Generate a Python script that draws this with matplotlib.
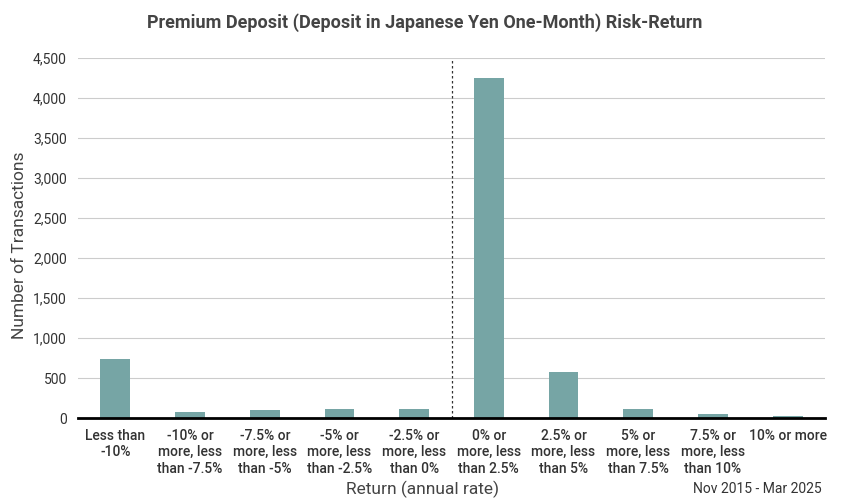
import matplotlib
matplotlib.use("Agg")
import matplotlib.pyplot as plt

categories = ["Less than\n-10%", "-10% or\nmore, less\nthan -7.5%", "-7.5% or\nmore, less\nthan -5%",
              "-5% or\nmore, less\nthan -2.5%", "-2.5% or\nmore, less\nthan 0%", "0% or\nmore, less\nthan 2.5%",
              "2.5% or\nmore, less\nthan 5%", "5% or\nmore, less\nthan 7.5%", "7.5% or\nmore, less\nthan 10%",
              "10% or more"]
values = [740, 75, 100, 112, 112, 4250, 575, 112, 50, 22]
yticks = [0, 500, 1000, 1500, 2000, 2500, 3000, 3500, 4000, 4500]

plt.rcParams["font.family"] = "Roboto"
fig = plt.figure(figsize=(8.5, 5), dpi=100)
ax = fig.add_axes([78/850, 82/500, 747/850, 360/500])
x = range(len(categories))
ax.bar(x, values, width=0.4, color="#76a5a5", zorder=3)
ax.set_xlim(-0.5, len(categories) - 0.5)
ax.set_ylim(0, 4500)
ax.set_yticks(yticks)
ax.set_yticklabels([f"{v:,}" for v in yticks], fontsize=10, color="#333333")
ax.set_xticks(list(x))
ax.set_xticklabels(categories, fontsize=10, color="#333333", fontweight="medium")
ax.tick_params(length=0, pad=8)
ax.grid(axis="y", color="#cccccc", linewidth=0.8, zorder=0)
for s in ["top", "right", "left"]:
    ax.spines[s].set_visible(False)
ax.spines["bottom"].set_linewidth(2)
ax.spines["bottom"].set_zorder(4)
ax.axvline(4.5, color="#333333", linestyle=(0, (2, 2)), linewidth=0.9, zorder=4)
fig.text(20/850, 1 - 245/500, "Number of Transactions", rotation=90, ha="center", va="center",
         fontsize=12.5, color="#444444")
fig.text(423/850, 1 - 489/500, "Return (annual rate)", ha="center", va="center",
         fontsize=12.5, color="#444444")
fig.text(0.5, 0.955, "Premium Deposit (Deposit in Japanese Yen One-Month) Risk-Return",
         ha="center", va="center", fontsize=13, fontweight="bold", color="#444444")
fig.text(822/850, 1 - 489/500, "Nov 2015 - Mar 2025", ha="right", va="center", fontsize=10, color="#333333")
fig.savefig("out.png", dpi=100)
